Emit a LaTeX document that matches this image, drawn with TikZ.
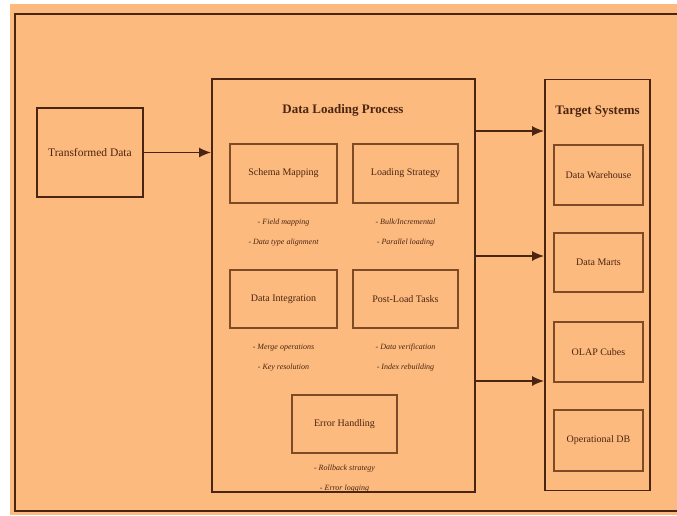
\documentclass[tikz,border=0pt]{standalone}
\usepackage{fontspec}
\setmainfont{Liberation Serif}
\usetikzlibrary{arrows.meta}
\definecolor{paper}{HTML}{FDBA7E}
\definecolor{ink}{HTML}{4A2511}
\definecolor{rim}{HTML}{7E4B26}
\tikzset{
  stagebox/.style={draw=ink, line width=1.8pt, minimum width=#1},
  partbox/.style={draw=rim, line width=1.3pt, minimum width=#1, font=\fontsize{10}{12}\selectfont},
  boxtitle/.style={font=\bfseries\fontsize{13}{15}\selectfont},
  note/.style={align=center, font=\itshape\fontsize{8}{20}\selectfont},
  flow/.style={draw=ink, line width=1.6pt, -{Latex[length=12pt,width=10pt]}}
}
\begin{document}
\begin{tikzpicture}[x=1pt, y=-1pt, text=ink]
	\useasboundingbox (0,0) rectangle (677,515);
	\fill[paper] (10,4) rectangle (677,515);
	\draw[ink, line width=1.8pt] (680,14) -- (15,14) -- (15,511) -- (680,511);
	% source
	\node[stagebox=106pt, minimum height=89pt, font=\fontsize{11.5}{13}\selectfont] (tdata) at (90,152.5) {Transformed Data};
	% loading process
	\node[stagebox=263pt, minimum height=413pt] (load) at (343.5,285.5) {};
	\node[boxtitle] (loadtitle) at (343,110) {Data Loading Process};
	\node[partbox=107pt, minimum height=59pt] (schema) at (283.5,173.5) {Schema Mapping};
	\node[partbox=105pt, minimum height=59pt] (strategy) at (405.5,173.5) {Loading Strategy};
	\node[note] (schemanote) at (283.5,233) {- Field mapping\\- Data type alignment};
	\node[note] (strategynote) at (405.5,233) {- Bulk/Incremental\\- Parallel loading};
	\node[partbox=107pt, minimum height=58pt] (integ) at (283.5,299) {Data Integration};
	\node[partbox=105pt, minimum height=58pt] (postload) at (405.5,299) {Post-Load Tasks};
	\node[note] (integnote) at (283.5,358) {- Merge operations\\- Key resolution};
	\node[note] (postnote) at (405.5,358) {- Data verification\\- Index rebuilding};
	\node[partbox=105pt, minimum height=58pt] (errors) at (344.5,424) {Error Handling};
	\node[note] (errornote) at (344.5,479) {- Rollback strategy\\- Error logging};
	% targets
	\node[stagebox=105pt, minimum height=411pt] (target) at (597.5,285) {};
	\node[boxtitle] (targettitle) at (597.5,112) {Target Systems};
	\node[partbox=89pt, minimum height=60pt] (warehouse) at (598.5,175) {Data Warehouse};
	\node[partbox=89pt, minimum height=59pt] (marts) at (598.5,262.5) {Data Marts};
	\node[partbox=89pt, minimum height=60pt] (olap) at (598.5,352) {OLAP Cubes};
	\node[partbox=89pt, minimum height=61pt] (opdb) at (598.5,440.5) {Operational DB};
	% connectors
	\draw[flow] (tdata.east) -- (tdata.east -| load.west);
	\draw[flow] ([yshift=154.5pt]load.east) -- ([yshift=154.5pt]load.east -| target.west);
	\draw[flow] ([yshift=29.5pt]load.east) -- ([yshift=29.5pt]load.east -| target.west);
	\draw[flow] ([yshift=-95.5pt]load.east) -- ([yshift=-95.5pt]load.east -| target.west);
\end{tikzpicture}
\end{document}
